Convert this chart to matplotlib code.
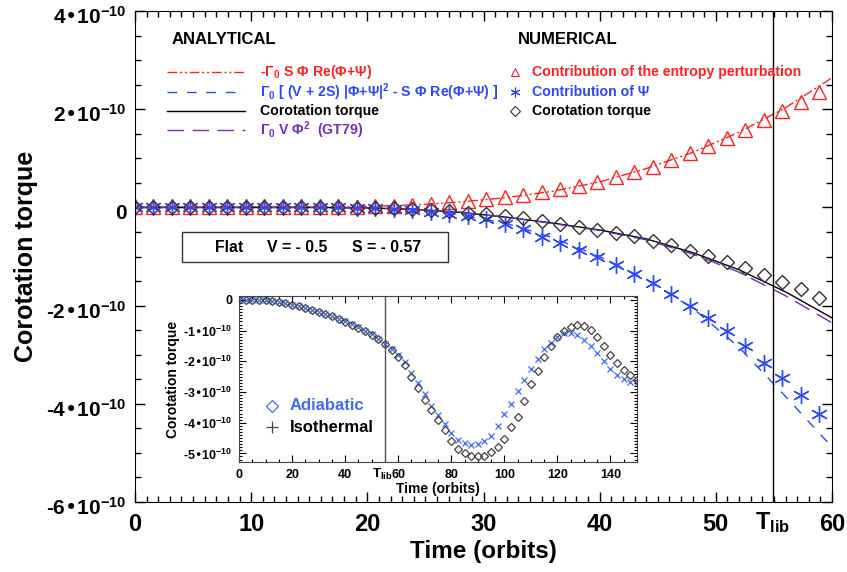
"""Corotation torque versus time: analytical curves, numerical points and an inset."""

import matplotlib
matplotlib.use("Agg")
import matplotlib.pyplot as plt
from matplotlib.patches import Rectangle
from matplotlib.ticker import FixedLocator, FuncFormatter, MultipleLocator
from matplotlib.transforms import ScaledTranslation

plt.rcParams["font.family"] = ["Liberation Sans", "DejaVu Sans"]
plt.rcParams["font.weight"] = "bold"
plt.rcParams["axes.labelweight"] = "bold"
plt.rcParams["mathtext.default"] = "regular"

W, H = 847, 572
UNIT = 1e-10
T_LIB = 54.9

RED = "#ff2020"
BLUE = "#2a48ff"
PURPLE = "#7a2cb8"
LIGHT_BLUE = "#3b6dff"

# analytical curves (units of 1e-10)
ana_time = [0, 5, 10, 15, 20, 24, 28, 32, 36, 40, 44, 48, 52, 56, 60]
ana_entropy = [0, 0, 0, 0, 0.02, 0.05, 0.11, 0.20, 0.33, 0.52, 0.79, 1.12, 1.53, 2.03, 2.64]
ana_psi = [0, 0, 0, 0, -0.01, -0.05, -0.15, -0.33, -0.62, -1.00, -1.47, -2.05, -2.85, -3.85, -4.88]
ana_total = [0, 0, 0, 0, -0.01, -0.04, -0.10, -0.20, -0.32, -0.46, -0.64, -0.92, -1.27, -1.72, -2.25]
ana_gt79 = [0, 0, 0, 0, -0.01, -0.04, -0.10, -0.20, -0.33, -0.47, -0.66, -0.95, -1.32, -1.80, -2.35]

# numerical outputs
num_time = [0.00, 1.59, 3.18, 4.77, 6.37, 7.96, 9.55, 11.14, 12.73, 14.32,
            15.92, 17.51, 19.10, 20.69, 22.28, 23.87, 25.46, 27.06, 28.65, 30.24,
            31.83, 33.42, 35.01, 36.61, 38.20, 39.79, 41.38, 42.97, 44.56, 46.15,
            47.75, 49.34, 50.93, 52.52, 54.11, 55.70, 57.30, 58.89]
num_entropy = [0, 0, 0, 0, 0, 0, 0, 0, 0, 0,
               0, 0, 0.01, 0.02, 0.03, 0.05, 0.07, 0.10, 0.13, 0.17,
               0.21, 0.26, 0.31, 0.37, 0.44, 0.52, 0.61, 0.72, 0.83, 0.96,
               1.10, 1.25, 1.41, 1.58, 1.77, 1.96, 2.15, 2.36]
num_psi = [0, 0, 0, 0, 0, 0, 0, 0, 0, 0,
           0, 0, -0.01, -0.02, -0.04, -0.06, -0.09, -0.13, -0.18, -0.24,
           -0.33, -0.45, -0.60, -0.73, -0.87, -1.02, -1.17, -1.36, -1.54, -1.77,
           -2.01, -2.26, -2.52, -2.83, -3.16, -3.48, -3.83, -4.21]
num_total = [0, 0, 0, 0, 0, 0, 0, 0, 0, 0,
             0, 0, -0.01, -0.01, -0.02, -0.03, -0.05, -0.08, -0.11, -0.14,
             -0.18, -0.22, -0.27, -0.33, -0.39, -0.46, -0.53, -0.59, -0.68, -0.77,
             -0.89, -0.99, -1.11, -1.24, -1.37, -1.52, -1.67, -1.84]

# inset: long runs
long_time = [0, 2.5, 5, 7.5, 10, 12.5, 15, 17.5, 20, 22.5,
             25, 27.5, 30, 32.5, 35, 37.5, 40, 42.5, 45, 47.5,
             50, 52.5, 55, 57.5, 60, 62.5, 65, 67.5, 70, 72.5,
             75, 77.5, 80, 82.5, 85, 87.5, 90, 92.5, 95, 97.5,
             100, 102.5, 105, 107.5, 110, 112.5, 115, 117.5, 120, 122.5,
             125, 127.5, 130, 132.5, 135, 137.5, 140, 142.5, 145, 147.5, 150]
long_black = [0, 0, 0, 0, -0.01, -0.03, -0.06, -0.10, -0.15, -0.20,
              -0.26, -0.32, -0.38, -0.45, -0.53, -0.62, -0.71, -0.80, -0.90, -1.01,
              -1.13, -1.28, -1.45, -1.64, -1.87, -2.12, -2.50, -2.87, -3.25, -3.60,
              -3.92, -4.25, -4.58, -4.85, -4.98, -5.08, -5.10, -5.07, -4.95, -4.78,
              -4.52, -4.15, -3.80, -3.30, -2.75, -2.32, -1.85, -1.50, -1.22, -1.02,
              -0.88, -0.81, -0.85, -0.98, -1.20, -1.50, -1.80, -2.05, -2.28, -2.45, -2.60]
long_blue = [0, 0, 0, 0, -0.01, -0.03, -0.06, -0.10, -0.15, -0.20,
             -0.26, -0.32, -0.38, -0.45, -0.52, -0.61, -0.70, -0.79, -0.89, -1.00,
             -1.12, -1.26, -1.42, -1.60, -1.80, -2.03, -2.37, -2.72, -3.08, -3.44,
             -3.75, -4.05, -4.33, -4.55, -4.66, -4.71, -4.70, -4.60, -4.42, -4.12,
             -3.72, -3.38, -2.95, -2.60, -2.25, -1.92, -1.60, -1.40, -1.20, -1.08,
             -1.06, -1.15, -1.30, -1.50, -1.72, -2.00, -2.25, -2.44, -2.57, -2.66, -2.70]

main_yticks = [-6, -4, -2, 0, 2, 4]
inset_yticks = [-5, -4, -3, -2, -1, 0]


def fx(x):
    return x / W


def fy(y):
    return 1 - y / H


def scaled(values):
    return [v * UNIT for v in values]


def torque_label(v, _pos):
    n = int(round(v / UNIT))
    if n == 0:
        return "0"
    return f"{n}•10$^{{-10}}$"


def shift_labels(labels, dy_px):
    for label in labels:
        label.set_transform(label.get_transform()
                            + ScaledTranslation(0, -dy_px / 100, fig.dpi_scale_trans))


fig = plt.figure(figsize=(W / 100, H / 100), dpi=100)
ax = fig.add_axes([fx(135), fy(502), fx(832) - fx(135), fy(11) - fy(502)])

ax.plot(ana_time, scaled(ana_entropy), color=RED, lw=1, dashes=(7, 2, 1.5, 2, 1.5, 2))
ax.plot(ana_time, scaled(ana_psi), color=BLUE, lw=1, dashes=(7, 7))
ax.plot(ana_time, scaled(ana_total), color="black", lw=1)
ax.plot(ana_time, scaled(ana_gt79), color=PURPLE, lw=1, dashes=(12, 6))

ax.plot(num_time, scaled(num_entropy), ls="none", marker="^", ms=10,
        mfc="none", mec=RED, mew=1)
ax.plot(num_time, scaled(num_psi), ls="none", marker=(6, 2, 0), ms=12,
        color=BLUE, mew=1)
ax.plot(num_time, scaled(num_total), ls="none", marker="D", ms=7,
        mfc="none", mec="#333333", mew=1)

ax.axvline(T_LIB, color="black", lw=1)

ax.set_xlim(0, 60)
ax.set_ylim(-6 * UNIT, 4 * UNIT)
ax.xaxis.set_major_locator(FixedLocator([0, 10, 20, 30, 40, 50, 60]))
ax.xaxis.set_minor_locator(MultipleLocator(1))
ax.yaxis.set_major_locator(FixedLocator(scaled(main_yticks)))
ax.yaxis.set_minor_locator(MultipleLocator(0.5 * UNIT))
ax.yaxis.set_major_formatter(FuncFormatter(torque_label))
ax.tick_params(which="both", direction="in", top=True, right=True, width=1)
ax.tick_params(which="major", length=7)
ax.tick_params(which="minor", length=4)
ax.tick_params(axis="x", labelsize=17, pad=8)
ax.tick_params(axis="y", labelsize=15, pad=6)
shift_labels(ax.get_yticklabels(), 4)
ax.set_xlabel("Time (orbits)", fontsize=17.5, labelpad=3)
ax.set_ylabel("Corotation torque", fontsize=18, labelpad=6)
ax.text(T_LIB, -6 * UNIT, "T$_{lib}$", fontsize=17, ha="center", va="top",
        transform=ax.transData + ScaledTranslation(0, -0.08, fig.dpi_scale_trans))

# hand-made legends
fig.text(fx(172), fy(40), "ANALYTICAL", fontsize=12, va="center")
fig.text(fx(518), fy(40), "NUMERICAL", fontsize=12, va="center")

ana_rows = [
    (72, RED, (7, 2, 1.5, 2, 1.5, 2), "-Γ$_0$ S Φ Re(Φ+Ψ)"),
    (92, BLUE, (7, 7), "Γ$_0$ [ (V + 2S) |Φ+Ψ|$^2$ - S Φ Re(Φ+Ψ) ]"),
    (111, "black", None, "Corotation torque"),
    (130, PURPLE, (12, 6), "Γ$_0$ V Φ$^2$  (GT79)"),
]
for y, color, dash, label in ana_rows:
    line = ax.plot([fx(167), fx(245)], [fy(y), fy(y)], color=color, lw=1,
                   transform=fig.transFigure, clip_on=False)[0]
    if dash:
        line.set_dashes(dash)
    fig.text(fx(260), fy(y), label, color=color, fontsize=10.2, va="center")

num_rows = [
    (72, RED, dict(marker="^", mfc="none", mec=RED, ms=6),
     "Contribution of the entropy perturbation"),
    (92, BLUE, dict(marker=(6, 2, 0), color=BLUE, ms=7),
     "Contribution of Ψ"),
    (111, "black", dict(marker="D", mfc="none", mec="#333333", ms=5),
     "Corotation torque"),
]
for y, color, style, label in num_rows:
    ax.plot([fx(515)], [fy(y)], ls="none", mew=0.8, transform=fig.transFigure,
            clip_on=False, **style)
    fig.text(fx(532), fy(y), label, color=color, fontsize=10.2, va="center")

fig.add_artist(Rectangle((fx(182), fy(262)), fx(448) - fx(182), fy(232) - fy(262),
                         transform=fig.transFigure, fill=False, lw=1, ec="#333333"))
fig.text(fx(215), fy(248), "Flat", fontsize=11.4, va="center")
fig.text(fx(267), fy(248), "V = - 0.5", fontsize=11.4, va="center")
fig.text(fx(352), fy(248), "S = - 0.57", fontsize=11.4, va="center")

# inset with the long runs
ins = fig.add_axes([fx(239), fy(462), fx(637) - fx(239), fy(296) - fy(462)])
ins.set_facecolor("white")
ins.plot(long_time, scaled(long_blue), ls="none", marker="x", ms=4.5,
         color=LIGHT_BLUE, mew=0.9)
ins.plot(long_time, scaled(long_black), ls="none", marker="D", ms=4.5,
         mfc="none", mec="#444444", mew=0.9)
ins.axvline(T_LIB, color="#555555", lw=1)
ins.set_xlim(0, 150)
ins.set_ylim(-5.28 * UNIT, 0.13 * UNIT)
ins.xaxis.set_major_locator(FixedLocator([0, 20, 40, 60, 80, 100, 120, 140]))
ins.xaxis.set_minor_locator(MultipleLocator(5))
ins.yaxis.set_major_locator(FixedLocator(scaled(inset_yticks)))
ins.yaxis.set_minor_locator(MultipleLocator(0.1 * UNIT))
ins.yaxis.set_major_formatter(FuncFormatter(torque_label))
ins.tick_params(which="both", direction="in", top=True, right=True, width=0.8)
ins.tick_params(which="major", length=5, labelsize=9, pad=5)
ins.tick_params(which="minor", length=2.5)
ins.set_xlabel("Time (orbits)", fontsize=10, labelpad=1)
ins.set_ylabel("Corotation torque", fontsize=10, labelpad=2)
ins.text(T_LIB - 1, -5.28 * UNIT, "T$_{lib}$", fontsize=9.5, ha="center", va="top",
         transform=ins.transData + ScaledTranslation(0, -0.05, fig.dpi_scale_trans))
for sp in ins.spines.values():
    sp.set_color("#444444")

fig.text(fx(290), fy(406), "Adiabatic", color=LIGHT_BLUE, fontsize=12, va="center")
fig.text(fx(290), fy(427), "Isothermal", color="black", fontsize=12, va="center")
ins.plot([fx(272)], [fy(406)], ls="none", marker="D", ms=6, mfc="none",
         mec=LIGHT_BLUE, mew=0.9, transform=fig.transFigure, clip_on=False)
ins.plot([fx(272)], [fy(427)], ls="none", marker="+", ms=8, color="#444444",
         mew=0.9, transform=fig.transFigure, clip_on=False)

fig.savefig("out.png", dpi=100)
